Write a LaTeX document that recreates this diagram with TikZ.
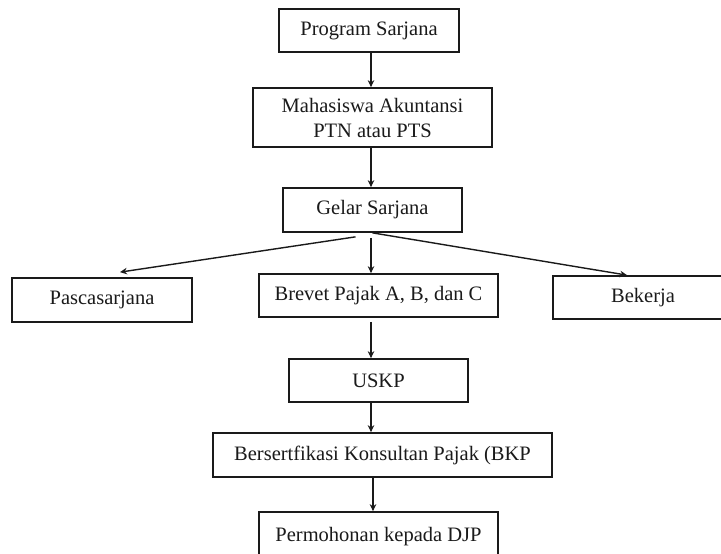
\documentclass[tikz,border=0pt]{standalone}
\usepackage{fontspec}
\setmainfont{Liberation Serif}
\usetikzlibrary{arrows.meta, calc}
\definecolor{inkline}{HTML}{1A1A1A}

\begin{document}
\begin{tikzpicture}[x=1pt, y=-1pt,
    box/.style={draw=inkline, line width=1.7pt, rectangle, align=center,
      font=\fontsize{20.5}{25}\selectfont, text=inkline, inner sep=0pt},
    arr/.style={draw=inkline, line width=1.4pt, -{Stealth[length=7pt, width=6.5pt]}}]
    \fill[white] (0,0) rectangle (721,554);
    \useasboundingbox (0,0) rectangle (721,554);
    \coordinate (spine) at (371,0);
    \node[box, minimum width=180pt, minimum height=43pt] (prog) at (369,30.5) {Program Sarjana};
    \node[box, minimum width=239pt, minimum height=59pt] (maha) at (372.5,117.5)
      {Mahasiswa Akuntansi\\PTN atau PTS};
    \node[box, minimum width=179pt, minimum height=44pt] (gelar) at (372.5,210) {Gelar Sarjana};
    \node[box, minimum width=180pt, minimum height=44pt] (pasca) at (102,300) {Pascasarjana};
    \node[box, minimum width=239pt, minimum height=43pt] (brevet) at (378.5,295.5) {Brevet Pajak A, B, dan C};
    \node[box, minimum width=180pt, minimum height=43pt] (bekerja) at (643,297.5) {Bekerja};
    \node[box, minimum width=179pt, minimum height=43pt] (uskp) at (378.5,380.5) {USKP};
    \node[box, minimum width=339pt, minimum height=44pt] (bkp) at (382.5,455) {Bersertfikasi Konsultan Pajak (BKP};
    \node[box, minimum width=239pt, minimum height=50pt] (djp) at (378.5,537) {Permohonan kepada DJP};
    \draw[arr] (prog.south -| spine) -- (maha.north -| spine);
    \draw[arr] (maha.south -| spine) -- (gelar.north -| spine);
    \draw[arr] ([yshift=-5pt]gelar.south -| spine) -- (brevet.north -| spine);
    \draw[arr] ([xshift=-17pt, yshift=-4pt]gelar.south) -- ([xshift=18pt, yshift=5pt]pasca.north);
    \draw[arr] (gelar.south) -- ([xshift=-16pt]bekerja.north);
    \draw[arr] ([yshift=-4pt]brevet.south -| spine) -- (uskp.north -| spine);
    \draw[arr] (uskp.south -| spine) -- (bkp.north -| spine);
    \draw[arr] ([xshift=2pt]bkp.south -| spine) -- ([xshift=2pt]djp.north -| spine);
  \end{tikzpicture}
\end{document}
